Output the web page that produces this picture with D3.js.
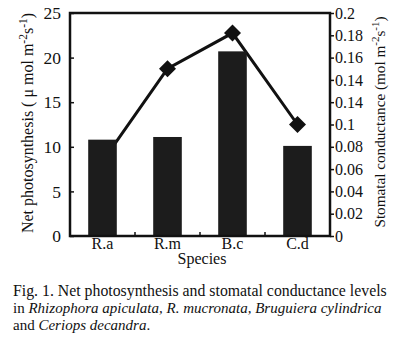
<!DOCTYPE html>
<html>
<head>
<meta charset="utf-8">
<script src="https://cdn.jsdelivr.net/npm/d3@7"></script>
<style>
  body { margin: 0; background: #fff; }
  svg text { font-family: "Liberation Serif", "DejaVu Serif", serif; fill: #111; }
</style>
</head>
<body>
<div id="chart"></div>
<script>
const species = ['R.a', 'R.m', 'B.c', 'C.d'];
const photosynthesis = [10.8, 11.1, 20.7, 10.1];
const conductance = [0.067, 0.15, 0.182, 0.1];
const leftTicks = [0, 5, 10, 15, 20, 25];
const rightTicks = [0, 0.02, 0.04, 0.06, 0.08, 0.1, 0.12, 0.14, 0.16, 0.18, 0.2];
// tick labels as printed in the figure (0.12 misprinted as 0.14)
const rightTickLabels = ['0', '0.02', '0.04', '0.06', '0.08', '0.1', '0.14', '0.14', '0.16', '0.18', '0.2'];

const width = 396, height = 345;
const plot = { left: 70, top: 13, right: 330, bottom: 236 };

const svg = d3.select('#chart').append('svg')
  .attr('width', width)
  .attr('height', height);

const x = d3.scaleBand()
  .domain(species)
  .range([plot.left, plot.right])
  .paddingInner(0.56)
  .paddingOuter(0.28);

const yLeft = d3.scaleLinear().domain([0, 25]).range([plot.bottom, plot.top]);
const yRight = d3.scaleLinear().domain([0, 0.2]).range([plot.bottom, plot.top]);

// line + markers (drawn under bars, the R.a point is hidden by its bar)
const line = d3.line()
  .x((d, i) => x(species[i]) + x.bandwidth() / 2)
  .y(d => yRight(d));

svg.append('path')
  .attr('d', line(conductance))
  .attr('fill', 'none')
  .attr('stroke', '#111')
  .attr('stroke-width', 3);

svg.selectAll('.marker')
    .data(conductance)
  .enter().append('path')
    .attr('class', 'marker')
    .attr('transform', (d, i) => `translate(${x(species[i]) + x.bandwidth() / 2}, ${yRight(d)})`)
    .attr('d', 'M0,-8.5L8.5,0L0,8.5L-8.5,0Z')
    .attr('fill', '#111');

// bars
svg.selectAll('.bar')
    .data(photosynthesis)
  .enter().append('rect')
    .attr('class', 'bar')
    .attr('x', (d, i) => x(species[i]))
    .attr('y', d => yLeft(d))
    .attr('width', x.bandwidth())
    .attr('height', d => plot.bottom - yLeft(d))
    .attr('fill', '#1c1c1c');

// frame
svg.append('rect')
  .attr('x', plot.left)
  .attr('y', plot.top)
  .attr('width', plot.right - plot.left)
  .attr('height', plot.bottom - plot.top)
  .attr('fill', 'none')
  .attr('stroke', '#111')
  .attr('stroke-width', 2.5);

// left axis
const yAxisL = d3.axisRight(yLeft).tickValues(leftTicks).tickSize(4).tickFormat(d3.format('d'));
const gL = svg.append('g')
  .attr('transform', `translate(${plot.left}, 0)`)
  .call(yAxisL);
gL.select('.domain').remove();
gL.selectAll('.tick line').attr('stroke', '#111').attr('stroke-width', 1.5);
gL.selectAll('.tick text')
  .attr('x', -9)
  .attr('text-anchor', 'end')
  .attr('font-size', 17.5);

// right axis
const yAxisR = d3.axisRight(yRight).tickValues(rightTicks).tickSize(4)
  .tickFormat((d, i) => rightTickLabels[i]);
const gR = svg.append('g')
  .attr('transform', `translate(${plot.right}, 0)`)
  .call(yAxisR);
gR.select('.domain').remove();
gR.selectAll('.tick line').attr('stroke', '#111').attr('stroke-width', 1.5);
gR.selectAll('.tick text')
  .attr('x', 5)
  .attr('font-size', 16);

// x axis
const xAxis = d3.axisBottom(x).tickSize(0).tickPadding(2);
const gX = svg.append('g')
  .attr('transform', `translate(0, ${plot.bottom})`)
  .call(xAxis);
gX.select('.domain').remove();
gX.selectAll('.tick text').attr('font-size', 16);

// small inner ticks between categories
svg.selectAll('.sep')
    .data(species.slice(1))
  .enter().append('line')
    .attr('class', 'sep')
    .attr('x1', d => x(d) - x.step() * x.paddingInner() / 2)
    .attr('x2', d => x(d) - x.step() * x.paddingInner() / 2)
    .attr('y1', plot.bottom)
    .attr('y2', plot.bottom - 4)
    .attr('stroke', '#111')
    .attr('stroke-width', 1.5);

svg.append('text')
  .attr('x', (plot.left + plot.right) / 2 + 2)
  .attr('y', 264)
  .attr('text-anchor', 'middle')
  .attr('font-size', 16)
  .text('Species');

// axis titles
const leftTitle = svg.append('text')
  .attr('transform', `translate(33, 123) rotate(-90)`)
  .attr('text-anchor', 'middle')
  .attr('font-size', 16);
leftTitle.append('tspan').text('Net photosynthesis ( \u03bc mol m');
leftTitle.append('tspan').attr('dy', -6).attr('font-size', 11.5).text('-2');
leftTitle.append('tspan').attr('dy', 6).text('s');
leftTitle.append('tspan').attr('dy', -6).attr('font-size', 11.5).text('-1');
leftTitle.append('tspan').attr('dy', 6).text(')');

const rightTitle = svg.append('text')
  .attr('transform', `translate(385, 122) rotate(-90)`)
  .attr('text-anchor', 'middle')
  .attr('font-size', 15.2);
rightTitle.append('tspan').text('Stomatal conductance (mol m');
rightTitle.append('tspan').attr('dy', -6).attr('font-size', 11).text('-2');
rightTitle.append('tspan').attr('dy', 6).text('s');
rightTitle.append('tspan').attr('dy', -6).attr('font-size', 11).text('-1');
rightTitle.append('tspan').attr('dy', 6).text(')');

// caption, each line sized to span the same width as in the figure
const fit = (sel, target) => {
  sel.attr('font-size', 15);
  const w = sel.node().getComputedTextLength();
  sel.attr('font-size', Math.min(16, 15 * target / w));
};
const l1 = svg.append('text').attr('x', 13).attr('y', 296)
  .text('Fig. 1. Net photosynthesis and stomatal conductance levels');
const l2 = svg.append('text').attr('x', 13).attr('y', 313);
l2.append('tspan').text('in ');
l2.append('tspan').attr('font-style', 'italic').text('Rhizophora apiculata, R. mucronata, Bruguiera cylindrica');
const l3 = svg.append('text').attr('x', 13).attr('y', 330);
l3.append('tspan').text('and ');
l3.append('tspan').attr('font-style', 'italic').text('Ceriops decandra');
l3.append('tspan').text('.');
fit(l1, 374);
fit(l2, 369);
l3.attr('font-size', l2.attr('font-size'));
</script>
</body>
</html>
